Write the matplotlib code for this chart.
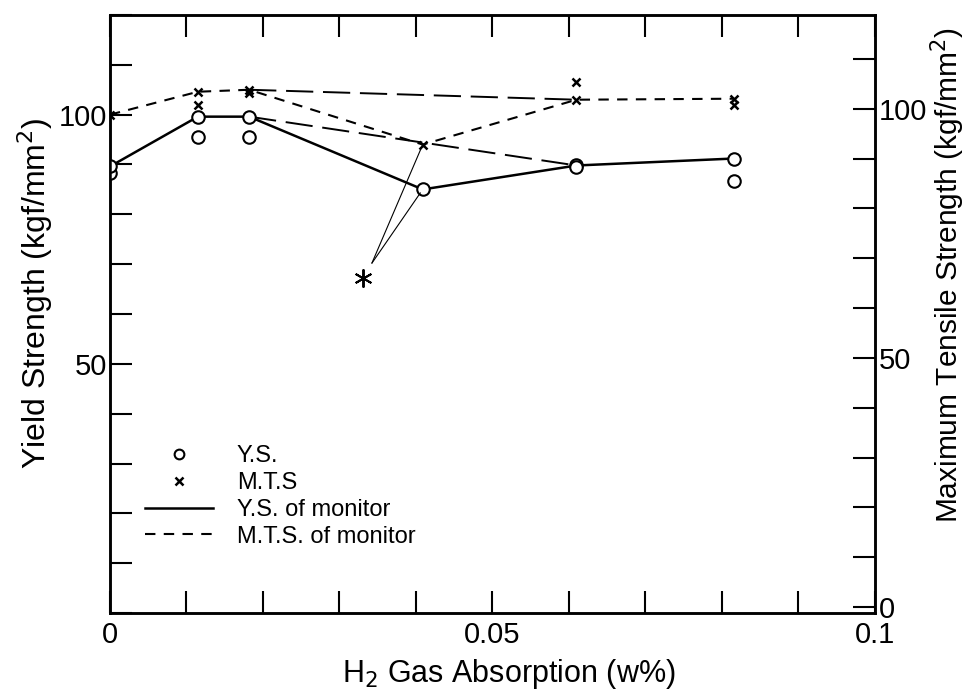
import matplotlib.pyplot as plt
from matplotlib.ticker import FixedLocator, FixedFormatter
from matplotlib.lines import Line2D

plt.rcParams['font.family'] = ['Liberation Sans', 'DejaVu Sans']

# Measured points
ys_x = [0, 0, 0.0115, 0.0115, 0.0182, 0.0182, 0.0409, 0.061, 0.061, 0.0816, 0.0816]
ys_y = [88.2, 89.6, 99.6, 95.6, 99.6, 95.6, 85.0, 89.8, 89.4, 91.2, 86.6]
mts_x = [0, 0.0115, 0.0115, 0.0182, 0.0182, 0.0409, 0.061, 0.061, 0.0816, 0.0816]
mts_y = [98.8, 103.4, 100.8, 103.8, 103.2, 92.8, 105.4, 101.8, 102.0, 100.8]

# Monitor specimens
mon_x = [0, 0.0115, 0.0182, 0.0409, 0.061, 0.0816]
mon_ys = [89.6, 99.6, 99.6, 85.0, 89.8, 91.2]
mon_mts = [98.8, 103.4, 103.8, 92.8, 101.8, 102.0]

# Bypass lines skipping the starred point
skip_x = [0.0182, 0.061]
skip_ys = [99.6, 89.8]
skip_mts = [103.8, 101.8]

# Asterisk note and the two points it refers to
star_x, star_y = 0.0331, 67.2
tip_x, tip_y = 0.03425, 70.2

fig = plt.figure(figsize=(9.73, 6.94), dpi=100)
ax = fig.add_axes([0.113, 0.1167, 0.786, 0.8617])
ax2 = ax.twinx()

# Left axis: yield strength
ax.plot(mon_x, mon_ys, color='black', lw=1.8, zorder=2)
ax.plot(skip_x, skip_ys, color='black', lw=1.4, dashes=(14, 5), zorder=2)
ax.plot(ys_x, ys_y, 'o', mfc='white', mec='black', mew=1.5, ms=9, zorder=3)

# Right axis: max tensile strength
ax2.plot(mon_x, mon_mts, color='black', lw=1.5, dashes=(5, 4), zorder=2)
ax2.plot(skip_x, skip_mts, color='black', lw=1.4, dashes=(14, 5), zorder=2)
ax2.plot(mts_x, mts_y, 'x', color='black', mew=1.8, ms=6, zorder=3)

# Starred annotation
ax.plot([star_x], [star_y], marker=(6, 2, 0), color='black', ms=13, mew=1.4, ls='none')
ax.annotate('', xy=(mon_x[3], mon_ys[3]), xytext=(tip_x, tip_y),
            arrowprops=dict(arrowstyle='-', lw=0.8, color='black', shrinkA=0, shrinkB=3))
ax.annotate('', xy=(mon_x[3], mon_mts[3]), xytext=(tip_x, tip_y),
            xycoords=ax2.transData, textcoords=ax.transData,
            arrowprops=dict(arrowstyle='-', lw=0.8, color='black', shrinkA=0, shrinkB=2))

# Axes
ax.set_xlim(0, 0.1)
ax.set_ylim(0, 120)
ax2.set_ylim(-1.2, 118.8)

xt = [i * 0.01 for i in range(11)]
ax.xaxis.set_major_locator(FixedLocator(xt))
ax.xaxis.set_major_formatter(FixedFormatter(['0', '', '', '', '', '0.05', '', '', '', '', '0.1']))
yt = list(range(0, 121, 10))
ax.yaxis.set_major_locator(FixedLocator(yt))
ax.yaxis.set_major_formatter(FixedFormatter(['' if v not in (50, 100) else str(v) for v in yt]))
ax2.yaxis.set_major_locator(FixedLocator(list(range(0, 111, 10))))
ax2.yaxis.set_major_formatter(FixedFormatter(['0', '', '', '', '', '50', '', '', '', '', '100', '']))

ax.tick_params(axis='x', direction='in', length=16, width=1.5, top=True, labelsize=21, pad=6)
ax.tick_params(axis='y', direction='in', length=16, width=1.5, right=False, labelsize=21, pad=2)
ax2.tick_params(axis='y', direction='in', length=16, width=1.5, labelsize=21, pad=3)
for a in (ax, ax2):
    for s in a.spines.values():
        s.set_linewidth(1.8)

ax.set_xlabel('H$_2$ Gas Absorption (w%)', fontsize=22)
ax.set_ylabel('Yield Strength (kgf/mm$^2$)', fontsize=23)
ax2.set_ylabel('Maximum Tensile Strength (kgf/mm$^2$)', fontsize=21.5)
ax.xaxis.set_label_coords(0.522, -0.073)
ax.yaxis.set_label_coords(-0.072, 0.535)
ax2.yaxis.set_label_coords(1.07, 0.565)

handles = [
    Line2D([], [], ls='none', marker='o', mfc='white', mec='black', mew=1.5, ms=7),
    Line2D([], [], ls='none', marker='x', color='black', mew=1.8, ms=6),
    Line2D([], [], color='black', lw=1.8),
    Line2D([], [], color='black', lw=1.5, dashes=(5, 4)),
]
labels = ['Y.S.', 'M.T.S', 'Y.S. of monitor', 'M.T.S. of monitor']
ax.legend(handles, labels, loc='upper left', bbox_to_anchor=(0.03, 0.30),
          frameon=False, fontsize=17, handlelength=2.9, handletextpad=1.0,
          labelspacing=0.2, borderpad=0)

fig.savefig('out.png', dpi=100)
